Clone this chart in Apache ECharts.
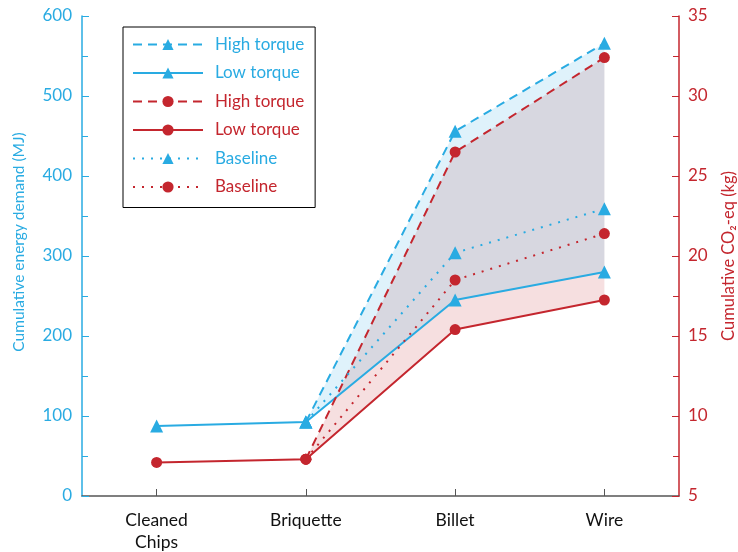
<!DOCTYPE html>
<html>
<head>
<meta charset="utf-8">
<script src="https://cdn.jsdelivr.net/npm/echarts@6/dist/echarts.min.js"></script>
<style>html,body{margin:0;padding:0;background:#fff}#c{width:738px;height:552px}</style>
</head>
<body>
<div id="c"></div>
<script>
const categories = ['Cleaned\nChips', 'Briquette', 'Billet', 'Wire'];
// Energy demand (MJ), left axis
const energyHigh = [null, 92.5, 456, 566];
const energyLow = [87.5, 92.5, 245, 280];
const energyBase = [null, 92.5, 304, 359];
// CO2-eq (kg), right axis
const co2High = [null, 7.3, 26.5, 32.4];
const co2Low = [7.1, 7.3, 15.4, 17.25];
const co2Base = [null, 7.3, 18.5, 21.4];
const leftTicks = {min: 0, max: 600, interval: 100};
const rightTicks = {min: 5, max: 35, interval: 5};

const BLUE = '#29abe2';
const RED = '#c4262e';
const FONT = 'Lato';

const diff = (hi, lo) => hi.map((v, i) => (v == null || lo[i] == null) ? null : +(v - lo[i]).toFixed(4));

function lineSeries(name, data, color, type, symbol, axis) {
  return {
    name: name, type: 'line', yAxisIndex: axis, data: data,
    symbol: symbol, symbolSize: symbol === 'triangle' ? 13 : 11,
    itemStyle: {color: color},
    lineStyle: {color: color, width: 2, type: type},
    z: 5, silent: true
  };
}

const series = [
  {name: '_cb', type: 'line', yAxisIndex: 1, stack: 'cband', data: co2Low, symbol: 'none', lineStyle: {width: 0}, z: 1, silent: true},
  {name: '_cd', type: 'line', yAxisIndex: 1, stack: 'cband', data: diff(co2High, co2Low), symbol: 'none', lineStyle: {width: 0}, areaStyle: {color: RED, opacity: 0.15}, z: 1, silent: true},
  {name: '_eb', type: 'line', yAxisIndex: 0, stack: 'eband', data: energyLow, symbol: 'none', lineStyle: {width: 0}, z: 2, silent: true},
  {name: '_ed', type: 'line', yAxisIndex: 0, stack: 'eband', data: diff(energyHigh, energyLow), symbol: 'none', lineStyle: {width: 0}, areaStyle: {color: BLUE, opacity: 0.15}, z: 2, silent: true},
  lineSeries('High torque|e', energyHigh, BLUE, [9, 6], 'triangle', 0),
  lineSeries('Low torque|e', energyLow, BLUE, 'solid', 'triangle', 0),
  lineSeries('High torque|c', co2High, RED, [9, 6], 'circle', 1),
  lineSeries('Low torque|c', co2Low, RED, 'solid', 'circle', 1),
  lineSeries('Baseline|e', energyBase, BLUE, [2, 7], 'triangle', 0),
  lineSeries('Baseline|c', co2Base, RED, [2, 7], 'circle', 1)
];

const legendNames = ['High torque|e', 'Low torque|e', 'High torque|c', 'Low torque|c', 'Baseline|e', 'Baseline|c'];

const chart = echarts.init(document.getElementById('c'), null, {renderer: 'canvas'});
chart.setOption({
  animation: false,
  textStyle: {fontFamily: FONT},
  grid: {left: 82, right: 59, top: 16, bottom: 56, containLabel: false, outerBoundsMode: 'none'},
  legend: {
    orient: 'vertical', left: 123, top: 27,
    itemWidth: 70, itemHeight: 14, itemGap: 11.5,
    padding: [9, 11, 12, 9],
    borderColor: '#000', borderWidth: 1,
    formatter: n => n.split('|')[0],
    textStyle: {fontSize: 17, fontFamily: FONT, padding: [0, 0, 0, 7]},
    data: legendNames.map(n => ({name: n, textStyle: {color: n.endsWith('|e') ? BLUE : RED}}))
  },
  xAxis: {
    type: 'category', data: categories, boundaryGap: true,
    axisLine: {lineStyle: {color: '#555', width: 1.5}},
    axisTick: {show: true, inside: true, alignWithLabel: true, length: 7, lineStyle: {color: '#555'}},
    axisLabel: {color: '#111', fontSize: 17.5, fontFamily: FONT, margin: 13, lineHeight: 22},
    splitLine: {show: false}
  },
  yAxis: [
    {
      type: 'value', position: 'left', min: leftTicks.min, max: leftTicks.max, interval: leftTicks.interval,
      name: 'Cumulative energy demand (MJ)', nameLocation: 'middle', nameGap: 55, nameRotate: 90,
      nameTextStyle: {color: BLUE, fontSize: 15.5, fontFamily: FONT, padding: [0, 0, 0, 28]},
      axisLine: {show: true, lineStyle: {color: BLUE, width: 1.5}},
      axisTick: {show: true, inside: true, length: 7, lineStyle: {color: BLUE}},
      minorTick: {show: true, splitNumber: 2, length: 6, lineStyle: {color: BLUE}},
      axisLabel: {color: BLUE, fontSize: 17, fontFamily: FONT, margin: 10},
      splitLine: {show: false}
    },
    {
      type: 'value', position: 'right', min: rightTicks.min, max: rightTicks.max, interval: rightTicks.interval,
      name: 'Cumulative CO₂-eq (kg)', nameLocation: 'middle', nameGap: 41, nameRotate: 90,
      nameTextStyle: {color: RED, fontSize: 16.5, fontFamily: FONT},
      axisLine: {show: true, lineStyle: {color: RED, width: 1.5}},
      axisTick: {show: true, inside: true, length: 7, lineStyle: {color: RED}},
      minorTick: {show: true, splitNumber: 2, length: 6, lineStyle: {color: RED}},
      axisLabel: {color: RED, fontSize: 17, fontFamily: FONT, margin: 9},
      splitLine: {show: false}
    }
  ],
  series: series
});
</script>
</body>
</html>
